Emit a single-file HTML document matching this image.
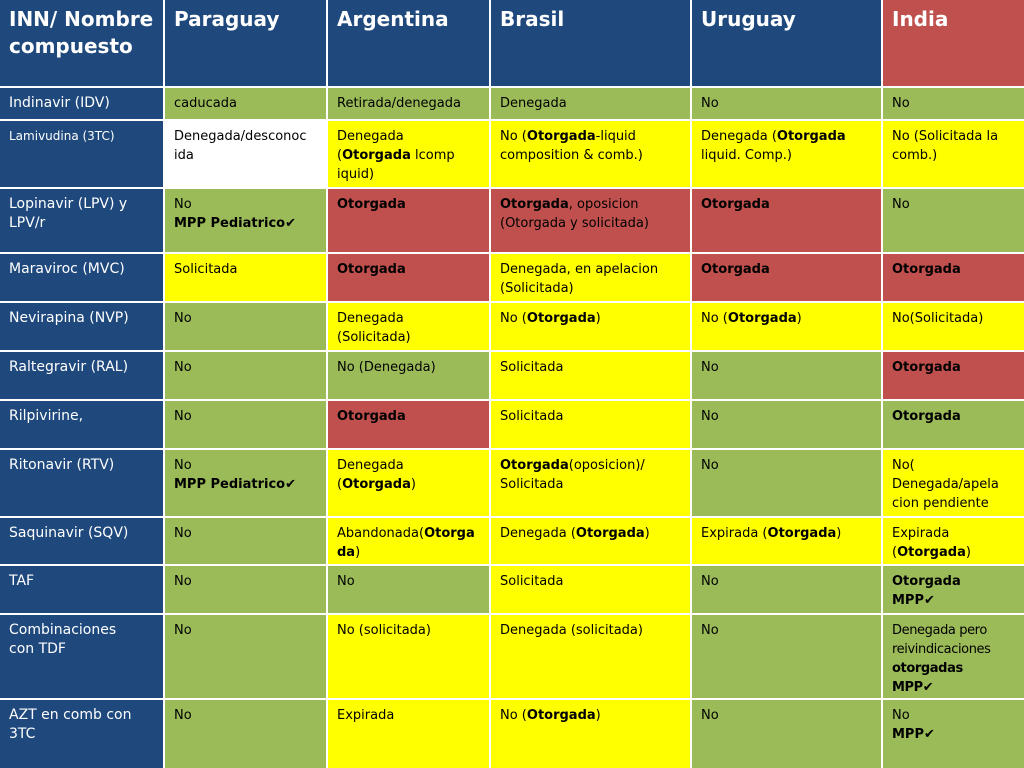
<!DOCTYPE html>
<html><head><meta charset="utf-8"><style>
html,body{margin:0;padding:0;background:#fff;}
#t{display:grid;width:1024px;height:768px;grid-template-columns:163px 161px 161px 199px 189px 141px;grid-template-rows:86px 31px 66px 63px 47px 47px 47px 47px 66px 46px 47px 83px 68px;gap:2px;background:#fff;font-family:"DejaVu Sans","Liberation Sans",sans-serif;font-size:13px;line-height:19px;color:#000;}
#t>div{padding:6px 9px;box-sizing:border-box;white-space:nowrap;overflow:hidden;}
.h{background:#1f497d;color:#fff;font-size:20px !important;line-height:27px !important;font-weight:bold;padding-top:6px !important;}
.hr{background:#c0504d;color:#fff;font-size:20px;line-height:27px;font-weight:bold;}
.n{background:#1f497d;color:#fff;font-size:14px;}
.g{background:#9bbb59;}.y{background:#ffff00;}.r{background:#c0504d;}.w{background:#fff;}
b{font-weight:bold;}
</style></head><body>
<div id="t">
<div class="h">INN/ Nombre<br>compuesto</div>
<div class="h">Paraguay</div>
<div class="h">Argentina</div>
<div class="h">Brasil</div>
<div class="h">Uruguay</div>
<div class="h hr" style="background:#c0504d">India</div>

<div class="n">Indinavir (IDV)</div>
<div class="g">caducada</div>
<div class="g">Retirada/denegada</div>
<div class="g">Denegada</div>
<div class="g">No</div>
<div class="g">No</div>

<div class="n" style="font-size:12px">Lamivudina (3TC)</div>
<div class="w">Denegada/desconoc<br>ida</div>
<div class="y">Denegada<br>(<b>Otorgada</b> lcomp<br>iquid)</div>
<div class="y">No (<b>Otorgada</b>-liquid<br>composition &amp; comb.)</div>
<div class="y">Denegada (<b>Otorgada</b><br>liquid. Comp.)</div>
<div class="y">No (Solicitada la<br>comb.)</div>

<div class="n">Lopinavir (LPV) y<br>LPV/r</div>
<div class="g">No<br><b>MPP Pediatrico✔</b></div>
<div class="r"><b>Otorgada</b></div>
<div class="r"><b>Otorgada</b>, oposicion<br>(Otorgada y solicitada)</div>
<div class="r"><b>Otorgada</b></div>
<div class="g">No</div>

<div class="n">Maraviroc (MVC)</div>
<div class="y">Solicitada</div>
<div class="r"><b>Otorgada</b></div>
<div class="y">Denegada, en apelacion<br>(Solicitada)</div>
<div class="r"><b>Otorgada</b></div>
<div class="r"><b>Otorgada</b></div>

<div class="n">Nevirapina (NVP)</div>
<div class="g">No</div>
<div class="y">Denegada<br>(Solicitada)</div>
<div class="y">No (<b>Otorgada</b>)</div>
<div class="y">No (<b>Otorgada</b>)</div>
<div class="y">No(Solicitada)</div>

<div class="n">Raltegravir (RAL)</div>
<div class="g">No</div>
<div class="g">No (Denegada)</div>
<div class="y">Solicitada</div>
<div class="g">No</div>
<div class="r"><b>Otorgada</b></div>

<div class="n">Rilpivirine,</div>
<div class="g">No</div>
<div class="r"><b>Otorgada</b></div>
<div class="y">Solicitada</div>
<div class="g">No</div>
<div class="g"><b>Otorgada</b></div>

<div class="n">Ritonavir (RTV)</div>
<div class="g">No<br><b>MPP Pediatrico✔</b></div>
<div class="y">Denegada<br>(<b>Otorgada</b>)</div>
<div class="y"><b>Otorgada</b>(oposicion)/<br>Solicitada</div>
<div class="g">No</div>
<div class="y">No(<br>Denegada/apela<br>cion pendiente</div>

<div class="n">Saquinavir (SQV)</div>
<div class="g">No</div>
<div class="y">Abandonada(<b>Otorga</b><br><b>da</b>)</div>
<div class="y">Denegada (<b>Otorgada</b>)</div>
<div class="y">Expirada (<b>Otorgada</b>)</div>
<div class="y">Expirada<br>(<b>Otorgada</b>)</div>

<div class="n">TAF</div>
<div class="g">No</div>
<div class="g">No</div>
<div class="y">Solicitada</div>
<div class="g">No</div>
<div class="g"><b>Otorgada</b><br><b>MPP✔</b></div>

<div class="n">Combinaciones<br>con TDF</div>
<div class="g">No</div>
<div class="y">No (solicitada)</div>
<div class="y">Denegada (solicitada)</div>
<div class="g">No</div>
<div class="g" style="letter-spacing:-0.4px">Denegada pero<br>reivindicaciones<br><b>otorgadas</b><br><b>MPP✔</b></div>

<div class="n">AZT en comb con<br>3TC</div>
<div class="g">No</div>
<div class="y">Expirada</div>
<div class="y">No (<b>Otorgada</b>)</div>
<div class="g">No</div>
<div class="g">No<br><b>MPP✔</b></div>
</div>
</body></html>
